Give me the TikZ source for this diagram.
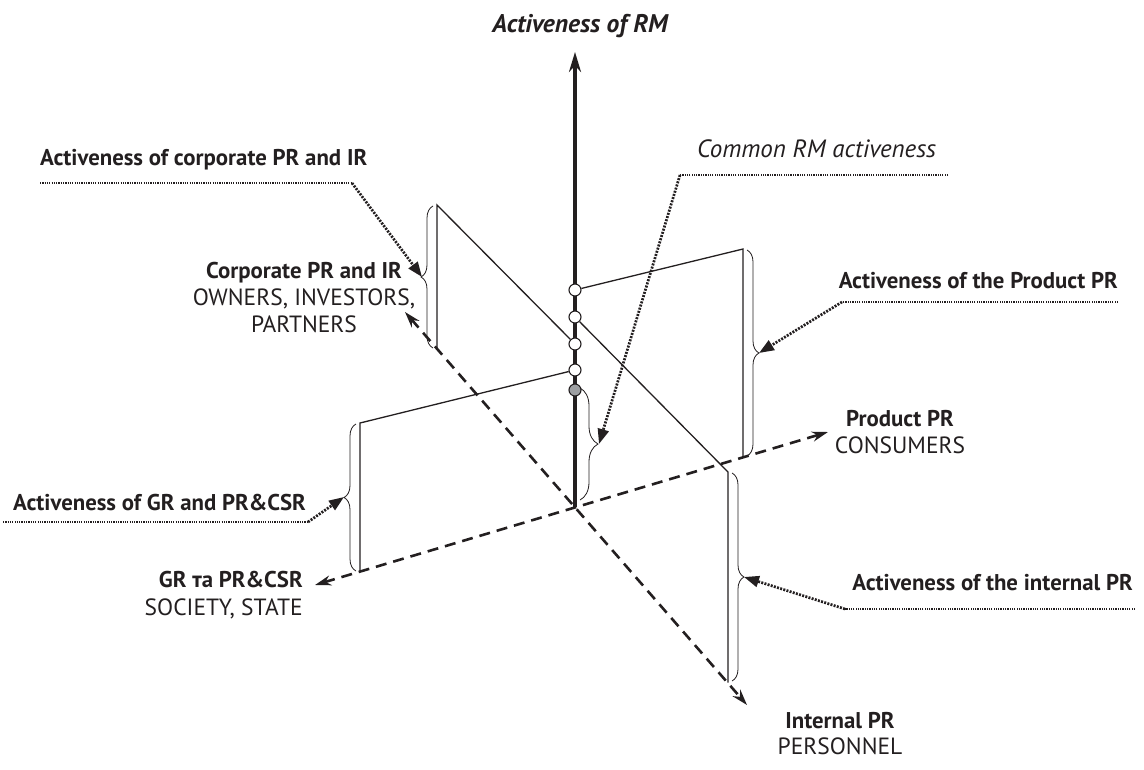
\documentclass[tikz,border=0pt]{standalone}
\usepackage{fontspec}
\setmainfont{PT Sans}
\usetikzlibrary{arrows.meta,decorations.pathreplacing}
\definecolor{ink}{HTML}{231F20}
\definecolor{dotgray}{HTML}{9D9FA2}
\begin{document}
\begin{tikzpicture}[x=1pt,y=-1pt,
  txt/.style={font=\fontsize{23.5}{28}\selectfont, inner sep=0pt, text=ink},
  btxt/.style={font=\fontsize{22.8}{28}\selectfont\bfseries, inner sep=0pt, text=ink},
  itxt/.style={font=\fontsize{25}{28}\selectfont\itshape, inner sep=0pt, text=ink},
  bitxt/.style={font=\fontsize{25.5}{28}\selectfont\bfseries\itshape, inner sep=0pt, text=ink},
  plane/.style={line width=1.3pt, draw=ink},
  axisdash/.style={line width=2.6pt, draw=ink, dash pattern=on 11pt off 7pt,
     {Stealth[length=16pt,width=10pt]}-{Stealth[length=16pt,width=10pt]}},
  mainaxis/.style={line width=3.2pt, draw=ink, -{Stealth[length=20pt,width=12pt]}},
  leader/.style={line width=1.4pt, draw=ink, dash pattern=on 1.2pt off 1.1pt},
  pointer/.style={line width=2.7pt, draw=ink, dash pattern=on 2pt off 1.3pt,
     -{Triangle[length=15pt,width=11pt]}},
  bracebox/.style={decorate, decoration={brace, amplitude=12pt}, line width=0.8pt, draw=ink},
  ring/.style={circle, draw=ink, line width=1.1pt, fill=white, minimum size=12pt, inner sep=0pt},
]
\useasboundingbox (0,0) rectangle (1144,769);

% coordinates
\coordinate (O) at (575,507);
\coordinate (vtop) at (575,52);
\coordinate (corpTip) at (405,312);
\coordinate (intTip) at (747,705);
\coordinate (grTip) at (315,585);
\coordinate (prodTip) at (828,432);

\coordinate (cTop) at (437,205);
\coordinate (cBot) at (437,348.7);
\coordinate (iTop) at (728,472);
\coordinate (iBot) at (728,682.5);
\coordinate (gTop) at (360,423);
\coordinate (gBot) at (360,571.6);
\coordinate (pTop) at (743,249);
\coordinate (pBot) at (743,457.4);

% dashed axes
\draw[axisdash] (corpTip) -- (intTip);
\draw[axisdash] (grTip) -- (prodTip);

% main vertical axis
\draw[mainaxis] (O) -- (vtop);

% circles on the axis
\node[ring] (c1) at (575,290) {};
\node[ring] (c2) at (575,317) {};
\node[ring] (c3) at (575,344) {};
\node[ring] (c4) at (575,370) {};
\node[ring, fill=dotgray] (c5) at (575,390) {};

% planes
\draw[plane] (c1) -- (pTop) -- (pBot);
\draw[plane] (c3) -- (cTop) -- (cBot);
\draw[plane] (c2) -- (iTop) -- (iBot);
\draw[plane] (c4) -- (gTop) -- (gBot);

% braces
\coordinate (bcA) at (433,348);  \coordinate (bcB) at (433,206);
\coordinate (bgA) at (356,571);  \coordinate (bgB) at (356,424);
\coordinate (bpA) at (747,250);  \coordinate (bpB) at (747,456);
\coordinate (biA) at (732,473);  \coordinate (biB) at (732,681);
\coordinate (bmA) at (580,388);  \coordinate (bmB) at (580,500);
\draw[bracebox] (bcA) -- (bcB);
\draw[bracebox] (bgA) -- (bgB);
\draw[bracebox] (bpA) -- (bpB);
\draw[bracebox] (biA) -- (biB);
\draw[bracebox, decoration={amplitude=18pt}] (bmA) -- (bmB);

% leader lines
\coordinate (ca) at (40,183);   \coordinate (cb) at (352,183);  \coordinate (ct) at (422,277);
\coordinate (ma) at (948,175);  \coordinate (mb) at (680,175);  \coordinate (mt) at (599,444);
\coordinate (pa) at (1118,302); \coordinate (pb) at (842,302);  \coordinate (pt) at (759,353);
\coordinate (ga) at (3,522);    \coordinate (gb) at (308,522);  \coordinate (gt) at (344,497);
\coordinate (ia) at (1135,609); \coordinate (ib) at (845,609);  \coordinate (it) at (744,577);
\draw[leader] (ca) -- (cb); \draw[pointer] (cb) -- (ct);
\draw[leader] (ma) -- (mb); \draw[pointer] (mb) -- (mt);
\draw[leader] (pa) -- (pb); \draw[pointer] (pb) -- (pt);
\draw[leader] (ga) -- (gb); \draw[pointer] (gb) -- (gt);
\draw[leader] (ia) -- (ib); \draw[pointer] (ib) -- (it);

% texts
\node[bitxt, anchor=base] (tRM) at (580,32) {Activeness of RM};
\node[itxt, anchor=base west] (tCommon) at (697,157) {Common RM activeness};
\node[btxt, anchor=base west] (tCorpAct) at (40,165) {Activeness of corporate PR and IR};
\node[btxt, anchor=base east] (tProdAct) at (1118,288) {Activeness of the Product PR};
\node[btxt, anchor=base] (tCorp1) at (304,278) {Corporate PR and IR};
\node[txt, anchor=base] (tCorp2) at (304,305) {OWNERS, INVESTORS,};
\node[txt, anchor=base] (tCorp3) at (304,332) {PARTNERS};
\node[btxt, anchor=base] (tProd1) at (900,426) {Product PR};
\node[txt, anchor=base] (tProd2) at (900,453) {CONSUMERS};
\node[btxt, anchor=base west] (tGRAct) at (13,510) {Activeness of GR and PR\&CSR};
\node[btxt, anchor=base east] (tGR1) at (303,587) {GR та PR\&CSR};
\node[txt, anchor=base east] (tGR2) at (303,615) {SOCIETY, STATE};
\node[btxt, anchor=base east] (tIntAct) at (1133,590) {Activeness of the internal PR};
\node[btxt, anchor=base] (tInt1) at (840,728) {Internal PR};
\node[txt, anchor=base] (tInt2) at (840,754) {PERSONNEL};
\end{tikzpicture}
\end{document}
